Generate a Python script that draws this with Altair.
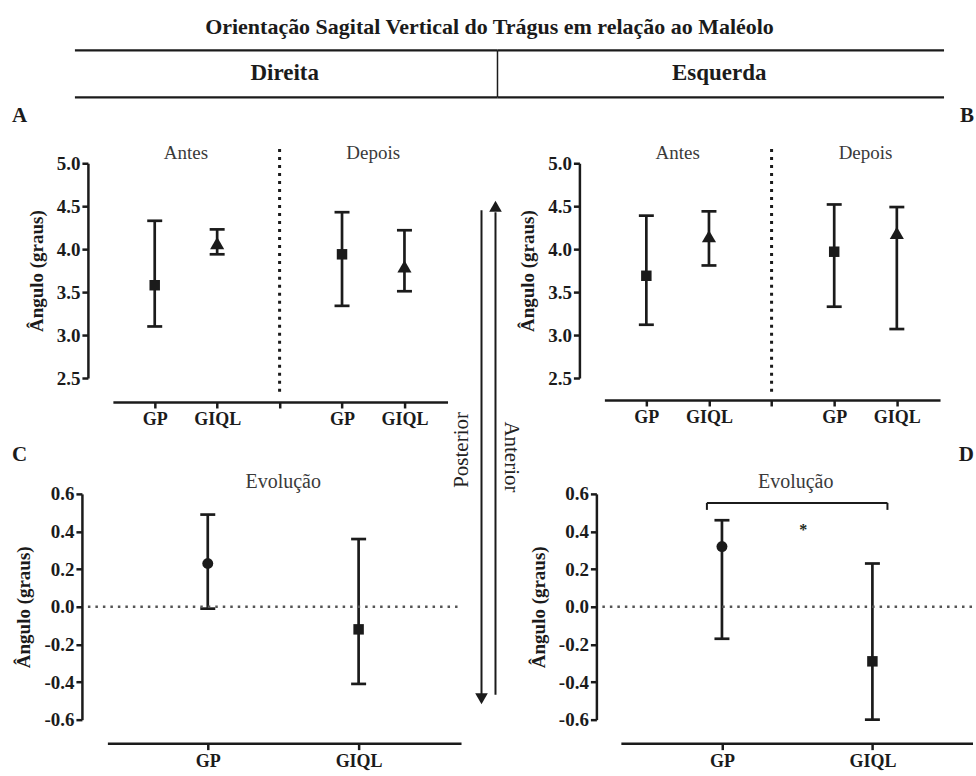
import altair as alt
import pandas as pd

INK = "#1b1b1b"
SERIF = "Liberation Serif"

# ---------------- data ----------------
ab_positions = [1, 2, 4, 5]
ab_groups = ["GP", "GIQL", "GP", "GIQL"]
ab_tick_values = [1, 2, 3, 4, 5]
ab_tick_labels = ["GP", "GIQL", "", "GP", "GIQL"]

# Panel A - Direita (Antes: GP, GIQL ; Depois: GP, GIQL)
a_mean = [3.58, 4.07, 3.94, 3.80]
a_low = [3.10, 3.94, 3.34, 3.51]
a_high = [4.33, 4.23, 4.43, 4.22]

# Panel B - Esquerda
b_mean = [3.69, 4.15, 3.97, 4.19]
b_low = [3.12, 3.81, 3.33, 3.07]
b_high = [4.39, 4.44, 4.52, 4.49]

cd_positions = [1, 2]
cd_groups = ["GP", "GIQL"]
cd_tick_values = [1, 2]
cd_tick_labels = ["GP", "GIQL"]

# Panel C - Evolução Direita
c_mean = [0.23, -0.12]
c_low = [-0.01, -0.41]
c_high = [0.49, 0.36]

# Panel D - Evolução Esquerda
d_mean = [0.32, -0.29]
d_low = [-0.17, -0.60]
d_high = [0.46, 0.23]

ab_y_ticks = [2.5, 3.0, 3.5, 4.0, 4.5, 5.0]
cd_y_ticks = [-0.6, -0.4, -0.2, 0.0, 0.2, 0.4, 0.6]

main_title = "Orientação Sagital Vertical do Trágus em relação ao Maléolo"
side_labels = ["Direita", "Esquerda"]
phase_labels = ["Antes", "Depois"]
evo_label = "Evolução"
panel_letters = ["A", "B", "C", "D"]
direction_labels = ["Posterior", "Anterior"]
signif_label = "*"
y_title = "Ângulo (graus)"


def one(text=""):
    return pd.DataFrame({"t": [text]})


def label_expr(labels):
    arr = "[" + ",".join("'" + l + "'" for l in labels) + "]"
    return arr + "[datum.value - 1]"


Y_LABEL_EXPR = "replace(format(datum.value, '.1f'), '\u2212', '-')"


def errorbar_layers(pos, groups, mean, low, high, xdom, ydom, xticks, xlabels,
                    yticks, shapes, yoff, xoff, x_domain_line=True):
    df = pd.DataFrame({"pos": pos, "grp": groups, "mean": mean,
                       "low": low, "high": high})
    xs = alt.Scale(domain=xdom, nice=False, zero=False)
    ys = alt.Scale(domain=ydom, nice=False, zero=False)
    xaxis = alt.Axis(values=xticks, labelExpr=label_expr(xlabels), offset=xoff,
                     labelFontSize=18, labelPadding=3, labelFlush=False,
                     labelOverlap=False, grid=False, domain=x_domain_line,
                     tickCount=len(xticks))
    yaxis = alt.Axis(values=yticks, labelExpr=Y_LABEL_EXPR, offset=yoff,
                     labelFontSize=19, labelPadding=2, titleFontSize=19,
                     titlePadding=10, labelOverlap=False, grid=False,
                     tickCount=len(yticks))
    base = alt.Chart(df)
    X = alt.X("pos:Q", scale=xs, axis=xaxis, title=None)
    stem = base.mark_rule(color=INK, strokeWidth=2.7).encode(
        x=X, y=alt.Y("low:Q", scale=ys, axis=yaxis, title=y_title), y2="high:Q")
    cap_lo = base.mark_tick(orient="horizontal", size=15, thickness=2.7,
                            color=INK, opacity=1).encode(
        x=alt.X("pos:Q", title=None), y=alt.Y("low:Q", title=y_title))
    cap_hi = base.mark_tick(orient="horizontal", size=15, thickness=2.7,
                            color=INK, opacity=1).encode(
        x=alt.X("pos:Q", title=None), y=alt.Y("high:Q", title=y_title))
    layers = [stem, cap_lo, cap_hi]
    for g, (shape, size) in shapes.items():
        layers.append(
            base.transform_filter(alt.datum.grp == g)
            .mark_point(shape=shape, filled=True, size=size, color=INK, opacity=1)
            .encode(x=alt.X("pos:Q", title=None),
                    y=alt.Y("mean:Q", title=y_title))
        )
    return layers


def text_layer(text, x, y, size, weight="normal", color=INK, align="center",
               angle=0, font=SERIF):
    return alt.Chart(one(text)).mark_text(
        font=font, fontSize=size, fontWeight=weight, color=color, align=align,
        baseline="middle", angle=angle).encode(x=x, y=y, text="t:N")


def hrule(x, x2, y, width=2.2, color=INK, dash=None):
    kw = dict(color=color, strokeWidth=width)
    if dash:
        kw["strokeDash"] = dash
    return alt.Chart(one()).mark_rule(**kw).encode(x=x, x2=x2, y=y)


def vrule(x, y, y2, width=2.2, color=INK, dash=None):
    kw = dict(color=color, strokeWidth=width)
    if dash:
        kw["strokeDash"] = dash
    return alt.Chart(one()).mark_rule(**kw).encode(x=x, y=y, y2=y2)


def arrow_head(x, y, shape):
    return alt.Chart(one()).mark_point(shape=shape, filled=True, size=160,
                                       color=INK, opacity=1).encode(x=x, y=y)


AB_XDOM = [0.33, 5.69]
ab_shapes = {"GP": ("square", 110), "GIQL": ("triangle-up", 200)}
cd_shapes = {"GP": ("circle", 120), "GIQL": ("square", 110)}

W_A, W_B, W_C, W_D = 335, 336, 336, 336
H_TOP, H_BOT = 215, 226

# ---------------- Panel A ----------------
A_layers = errorbar_layers(ab_positions, ab_groups, a_mean, a_low, a_high,
                           AB_XDOM, [2.5, 5.0], ab_tick_values, ab_tick_labels,
                           ab_y_ticks, ab_shapes, 25, 24)
A_layers += [
    vrule(alt.XDatum(3), alt.YDatum(2.34), alt.Y2Datum(5.21), width=3,
          dash=[3, 5]),
    text_layer(phase_labels[0], alt.XDatum(1.5), alt.value(-10), 19, color="#3a3a3a"),
    text_layer(phase_labels[1], alt.XDatum(4.5), alt.value(-10), 19, color="#3a3a3a"),
    # header (left half)
    text_layer(main_title, alt.value(377), alt.value(-136), 22, "bold"),
    hrule(alt.value(-38), alt.value(385), alt.value(-113)),
    hrule(alt.value(-38), alt.value(385), alt.value(-66)),
    vrule(alt.value(385), alt.value(-113), alt.value(-66), width=1.5),
    text_layer(side_labels[0], alt.value(172), alt.value(-90), 23, "bold"),
    text_layer(panel_letters[0], alt.value(-101), alt.value(-47), 21, "bold",
               align="left"),
    # direction arrows between columns
    vrule(alt.value(369), alt.value(47), alt.value(532), width=2),
    arrow_head(alt.value(369), alt.value(536), "triangle-down"),
    vrule(alt.value(383), alt.value(49), alt.value(532), width=2),
    arrow_head(alt.value(383), alt.value(43), "triangle-up"),
    text_layer(direction_labels[0], alt.value(349), alt.value(287), 21,
               color="#222222", angle=270),
    text_layer(direction_labels[1], alt.value(399), alt.value(294), 21,
               color="#222222", angle=90),
    # page frame
    alt.Chart(one()).mark_rect(opacity=0).encode(
        x=alt.value(-113), x2=alt.value(863), y=alt.value(-163), y2=alt.value(613)),
]
A = alt.layer(*A_layers).properties(width=W_A, height=H_TOP)

# ---------------- Panel B ----------------
B_layers = errorbar_layers(ab_positions, ab_groups, b_mean, b_low, b_high,
                           AB_XDOM, [2.5, 5.0], ab_tick_values, ab_tick_labels,
                           ab_y_ticks, ab_shapes, 25, 22)
B_layers += [
    vrule(alt.XDatum(3), alt.YDatum(2.34), alt.Y2Datum(5.21), width=3,
          dash=[3, 5]),
    text_layer(phase_labels[0], alt.XDatum(1.5), alt.value(-10), 19, color="#3a3a3a"),
    text_layer(phase_labels[1], alt.XDatum(4.5), alt.value(-10), 19, color="#3a3a3a"),
    hrule(alt.value(-107), alt.value(340), alt.value(-113)),
    hrule(alt.value(-107), alt.value(340), alt.value(-66)),
    text_layer(side_labels[1], alt.value(115), alt.value(-90), 23, "bold"),
    text_layer(panel_letters[1], alt.value(370), alt.value(-47), 21, "bold",
               align="right"),
]
B = alt.layer(*B_layers).properties(width=W_B, height=H_TOP)

# ---------------- Panel C ----------------
C_layers = errorbar_layers(cd_positions, cd_groups, c_mean, c_low, c_high,
                           [0.371, 0.371 + W_C / 151], [-0.6, 0.6], cd_tick_values,
                           cd_tick_labels, cd_y_ticks, cd_shapes, 31, 24,
                           x_domain_line=False)
C_layers += [
    hrule(alt.value(-25), alt.value(349), alt.YDatum(0), width=2.5,
          color="#555555", dash=[2.5, 5]),
    hrule(alt.value(-5), alt.value(349), alt.value(H_BOT + 24), width=2.5),
    text_layer(evo_label, alt.XDatum(1.5), alt.value(-12), 20, color="#3a3a3a"),
    text_layer(panel_letters[2], alt.value(-101), alt.value(-39), 21, "bold",
               align="left"),
]
C = alt.layer(*C_layers).properties(width=W_C, height=H_BOT)

# ---------------- Panel D ----------------
D_layers = errorbar_layers(cd_positions, cd_groups, d_mean, d_low, d_high,
                           [0.2185, 0.2185 + W_D / 150.6], [-0.6, 0.6],
                           cd_tick_values, cd_tick_labels, cd_y_ticks, cd_shapes,
                           8, 24, x_domain_line=False)
D_layers += [
    hrule(alt.value(-2), alt.value(370), alt.YDatum(0), width=2.5,
          color="#555555", dash=[2.5, 5]),
    hrule(alt.value(17), alt.value(369), alt.value(H_BOT + 24), width=2.5),
    text_layer(evo_label, alt.XDatum(1.49), alt.value(-12), 20, color="#3a3a3a"),
    text_layer(panel_letters[3], alt.value(370), alt.value(-39), 21, "bold",
               align="right"),
    # significance bracket
    hrule(alt.XDatum(0.9), alt.X2Datum(2.1), alt.YDatum(0.552), width=2),
    vrule(alt.XDatum(0.9), alt.YDatum(0.515), alt.Y2Datum(0.552), width=2),
    vrule(alt.XDatum(2.1), alt.YDatum(0.515), alt.Y2Datum(0.552), width=2),
    text_layer(signif_label, alt.XDatum(1.54), alt.YDatum(0.41), 16, "bold",
               color="#1d2b1d"),
]
D = alt.layer(*D_layers).properties(width=W_D, height=H_BOT)

chart = alt.concat(
    A, B, C, D, columns=2, spacing={"row": 116, "column": 156},
    bounds="flush", align="each",
).properties(padding=0).configure(
    background="white",
).configure_view(stroke=None).configure_axis(
    domainColor=INK, domainWidth=2.5, tickColor=INK, tickWidth=2.5, tickSize=6,
    labelFont=SERIF, labelFontWeight="bold", labelColor=INK,
    titleFont=SERIF, titleFontWeight="bold", titleColor=INK, grid=False,
    labelOverlap=False,
)

chart.save("out.html", embed_options={"renderer": "svg", "actions": False})
